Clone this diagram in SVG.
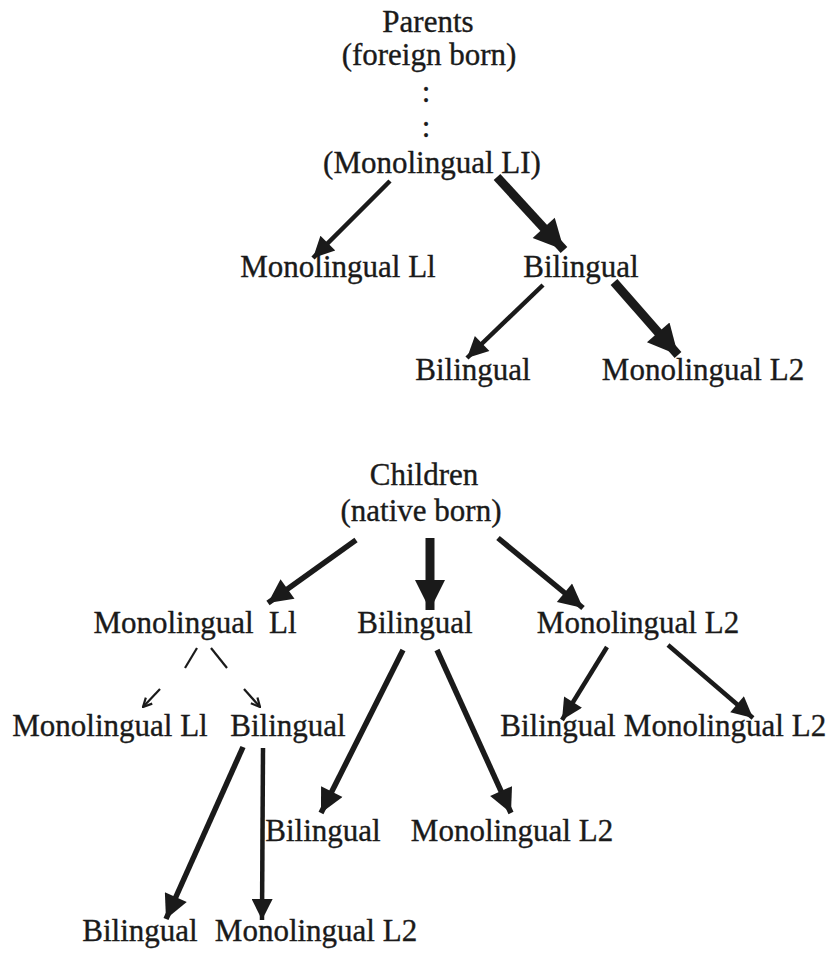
<svg xmlns="http://www.w3.org/2000/svg" width="831" height="956" viewBox="0 0 831 956">
<style>
text{font-family:"Liberation Serif","Times New Roman",serif;font-size:31px;fill:#1a1a1a;stroke:#1a1a1a;stroke-width:0.35;text-anchor:middle}
.c{stroke:#1a1a1a;fill:none}
.t{stroke-width:4.5;marker-end:url(#h)}
.k{stroke-width:9;marker-end:url(#hb)}
.m{stroke-width:5.5;marker-end:url(#hm)}
.s{stroke-width:2.2}
.sa{stroke-width:2.2;marker-end:url(#hs)}
</style>
<defs>
<marker id="h" viewBox="0 0 10 10" refX="10" refY="5" orient="auto" markerUnits="userSpaceOnUse" markerWidth="28" markerHeight="21"><path d="M0,0 L10,5 L0,10 z" fill="#1a1a1a"/></marker>
<marker id="hm" viewBox="0 0 10 10" refX="10" refY="5" orient="auto" markerUnits="userSpaceOnUse" markerWidth="34" markerHeight="24"><path d="M0,0 L10,5 L0,10 z" fill="#1a1a1a"/></marker>
<marker id="hb" viewBox="0 0 10 10" refX="10" refY="5" orient="auto" markerUnits="userSpaceOnUse" markerWidth="32" markerHeight="30"><path d="M0,0 L10,5 L0,10 z" fill="#1a1a1a"/></marker>
<marker id="hs" viewBox="0 0 10 10" refX="9" refY="5" orient="auto" markerUnits="userSpaceOnUse" markerWidth="11" markerHeight="11"><path d="M1,1 L9,5 L1,9" fill="none" stroke="#1a1a1a" stroke-width="2"/></marker>
</defs>
<rect width="831" height="956" fill="#fff"/>
<g id="parents"><text x="428" y="32">Parents</text><text x="429" y="65">(foreign born)</text><text x="426" y="102">:</text><text x="426" y="137">:</text><text x="432" y="173">(Monolingual LI)</text></g>
<g id="p-mono"><text x="338" y="277">Monolingual Ll</text></g>
<g id="p-bi"><text x="581" y="277">Bilingual</text></g>
<g id="p-bi-bi"><text x="473" y="380">Bilingual</text></g>
<g id="p-bi-mono"><text x="703" y="380">Monolingual L2</text></g>
<g id="children"><text x="424" y="485">Children</text><text x="421" y="521">(native born)</text></g>
<g id="c-mono"><text x="195" y="633" xml:space="preserve">Monolingual  Ll</text></g>
<g id="c-bi"><text x="415" y="633">Bilingual</text></g>
<g id="c-mono2"><text x="638" y="633">Monolingual L2</text></g>
<g id="cm-mono"><text x="110" y="736">Monolingual Ll</text></g>
<g id="cm-bi"><text x="288" y="736">Bilingual</text></g>
<g id="cm2-bi"><text x="558" y="736">Bilingual</text></g>
<g id="cm2-mono"><text x="725" y="736">Monolingual L2</text></g>
<g id="cb-bi"><text x="323" y="841">Bilingual</text></g>
<g id="cb-mono"><text x="512" y="841">Monolingual L2</text></g>
<g id="cmb-bi"><text x="140" y="941">Bilingual</text></g>
<g id="cmb-mono"><text x="316" y="941">Monolingual L2</text></g>
<g id="connectors" class="c">
<path class="t" d="M390,181 L313,258"/>
<path class="k" d="M497,177 L564,250"/>
<path class="t" d="M543,285 L467,358"/>
<path class="k" d="M614,282 L678,355"/>
<path class="m" d="M356,540 L268,603"/>
<path class="k" d="M430,538 L430,610"/>
<path class="m" d="M498,538 L583,608"/>
<path class="s" d="M197,648 L185,668"/>
<path class="s" d="M211,648 L227,668"/>
<path class="sa" d="M160,689 L143,707"/>
<path class="sa" d="M244,689 L260,707"/>
<path class="m" d="M403,650 L321,813"/>
<path class="m" d="M437,650 L511,813"/>
<path class="t" d="M607,647 L562,720"/>
<path class="t" d="M668,645 L753,718"/>
<path class="m" d="M243,747 L166,919"/>
<path class="t" d="M263,748 L262,920"/>
</g>
</svg>
